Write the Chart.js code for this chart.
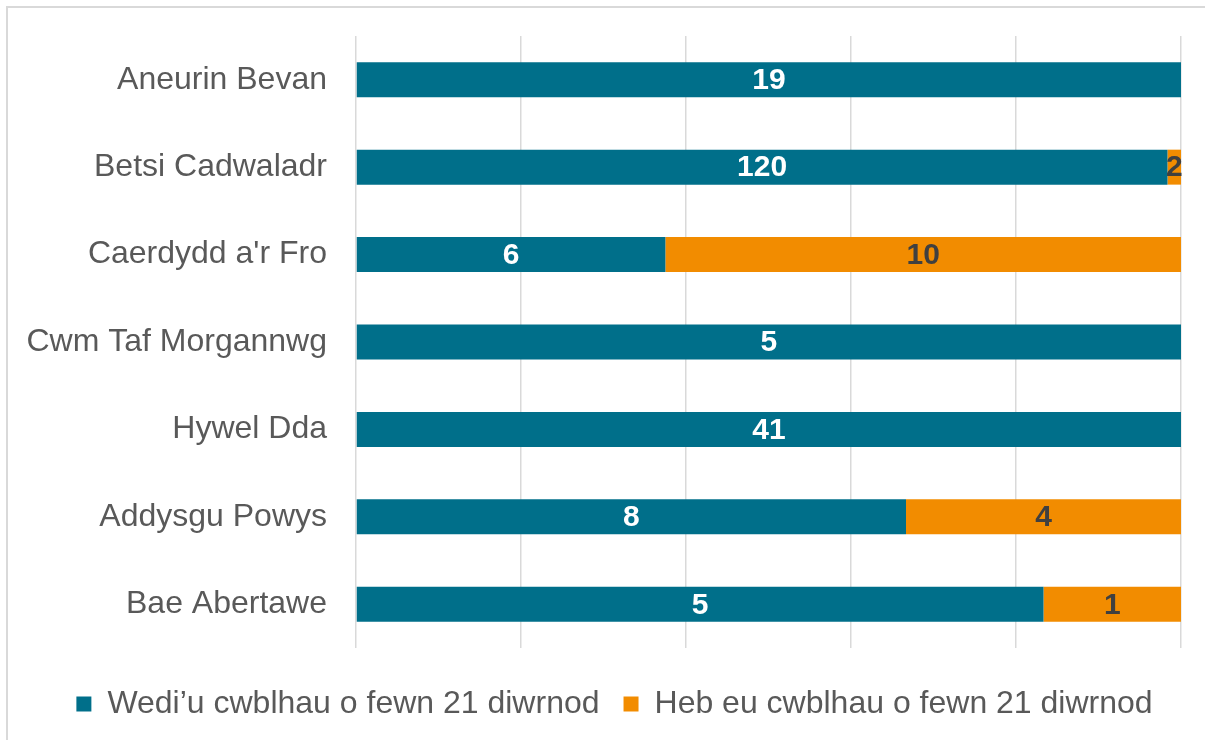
<!DOCTYPE html>
<html>
<head>
<meta charset="utf-8">
<script src="https://cdn.jsdelivr.net/npm/chart.js@4.4.1/dist/chart.umd.min.js"></script>
<style>
  html, body { margin: 0; padding: 0; background: #fff; overflow: hidden; }
  #wrap { position: relative; width: 1205px; height: 740px; }
  #frame { position: absolute; left: 6px; top: 6px; width: 1300px; height: 800px;
           border-left: 2px solid #d9d9d9; border-top: 2px solid #d9d9d9; }
  canvas { position: absolute; left: 0; top: 0; }
</style>
</head>
<body>
<div id="wrap">
  <div id="frame"></div>
  <canvas id="chart" width="1205" height="740"></canvas>
</div>
<script>
  // 数据：各卫生局完成数量
  const categories = ['Aneurin Bevan', 'Betsi Cadwaladr', "Caerdydd a'r Fro", 'Cwm Taf Morgannwg', 'Hywel Dda', 'Addysgu Powys', 'Bae Abertawe'];
  const completed = [19, 120, 6, 5, 41, 8, 5];
  const notCompleted = [0, 2, 10, 0, 0, 4, 1];
  const seriesNames = ['Wedi\u2019u cwblhau o fewn 21 diwrnod', 'Heb eu cwblhau o fewn 21 diwrnod'];

  const TEAL = '#006f8a';
  const ORANGE = '#f28c00';
  const FONT = "'Liberation Sans', Arial, sans-serif";

  // 百分比（100% 堆叠）
  const totals = completed.map((v, i) => v + notCompleted[i]);
  const pctCompleted = completed.map((v, i) => v / totals[i] * 100);
  const pctNot = notCompleted.map((v, i) => v / totals[i] * 100);
  const counts = [completed, notCompleted];

  // 段中心数值标签
  const segmentLabels = {
    id: 'segmentLabels',
    afterDatasetsDraw(chart) {
      const ctx = chart.ctx;
      ctx.save();
      ctx.font = 'bold 30px ' + FONT;
      ctx.textAlign = 'center';
      ctx.textBaseline = 'middle';
      chart.data.datasets.forEach((ds, di) => {
        const meta = chart.getDatasetMeta(di);
        ctx.fillStyle = di === 0 ? '#ffffff' : '#404040';
        meta.data.forEach((bar, i) => {
          const n = counts[di][i];
          if (!n) return;
          ctx.fillText(String(n), (bar.x + bar.base) / 2, bar.y + 1);
        });
      });
      ctx.restore();
    }
  };

  // 图例整体移动，与原图位置一致
  const legendShift = {
    id: 'legendShift',
    afterLayout(chart) {
      const lg = chart.legend;
      if (!lg) return;
      lg.left += 48;
      lg.top += 16;
      lg.bottom += 16;
    }
  };

  new Chart(document.getElementById('chart'), {
    type: 'bar',
    data: {
      labels: categories,
      datasets: [
        { label: seriesNames[0], data: pctCompleted, backgroundColor: TEAL, barPercentage: 0.4, categoryPercentage: 1 },
        { label: seriesNames[1], data: pctNot, backgroundColor: ORANGE, barPercentage: 0.4, categoryPercentage: 1 }
      ]
    },
    options: {
      indexAxis: 'y',
      responsive: false,
      animation: false,
      layout: { padding: { top: 36, right: 24, left: 0, bottom: 26 } },
      plugins: {
        legend: {
          position: 'bottom',
          labels: {
            boxWidth: 15, boxHeight: 15, padding: 24,
            color: '#595959', font: { size: 32, family: FONT }
          }
        },
        tooltip: { enabled: false }
      },
      scales: {
        x: {
          stacked: true, min: 0, max: 100,
          ticks: { display: false, stepSize: 20 },
          grid: { color: '#d9d9d9', lineWidth: 1.5, drawTicks: false },
          border: { display: false }
        },
        y: {
          stacked: true,
          afterFit: (scale) => { scale.width = 356; scale.paddingTop = 0; scale.paddingBottom = 0; },
          ticks: { color: '#595959', padding: 29, font: { size: 32, family: FONT } },
          grid: { display: false, drawTicks: false },
          border: { display: false }
        }
      }
    },
    plugins: [segmentLabels, legendShift]
  });
</script>
</body>
</html>
